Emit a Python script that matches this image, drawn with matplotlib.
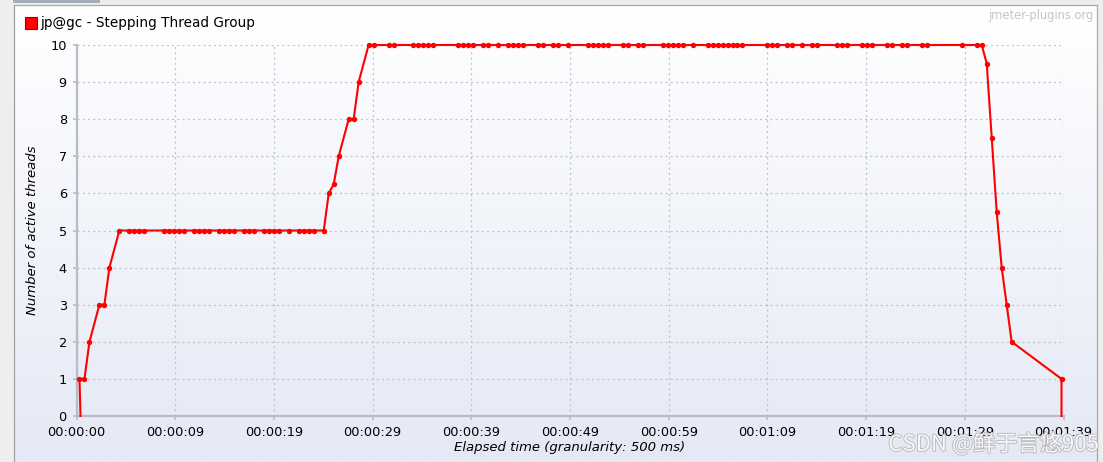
import numpy as np
import matplotlib
matplotlib.use("Agg")
import matplotlib.pyplot as plt
from matplotlib.patches import Rectangle
import matplotlib.patheffects as pe

# ---------------- data ----------------
series_name = "jp@gc - Stepping Thread Group"
granularity_s = 0.5
first_offset_s = 0.3
start_time_s = 0.4

# sample bucket index (500 ms buckets) where a value was recorded
buckets = [0, 1, 2, 4, 5, 6,
           8, 10, 11, 12, 13, 17, 18, 19, 20, 21, 23, 24, 25, 26, 28, 29, 30, 31,
           33, 34, 35, 37, 38, 39, 40, 42, 44, 45, 46, 47, 49,
           50, 51, 52, 54, 55, 56,
           58, 59, 62, 63, 67, 68, 69, 70, 71, 76, 77, 78, 79, 81, 82, 84,
           86, 87, 88, 89, 92, 93, 95, 96, 98, 102, 103, 104, 105, 106, 109, 110,
           112, 113, 117, 118, 119, 120, 121, 123, 126, 127, 128, 129, 130, 131,
           132, 133, 138, 139, 140, 142, 143, 145, 147, 148, 152, 153, 154, 157,
           158, 159, 162, 163, 165, 166, 169, 170, 177, 180, 181,
           182, 183, 184, 185, 186, 187, 197]

threads = [1, 1, 2, 3, 3, 4,
           5, 5, 5, 5, 5, 5, 5, 5, 5, 5, 5, 5, 5, 5, 5, 5, 5, 5,
           5, 5, 5, 5, 5, 5, 5, 5, 5, 5, 5, 5, 5,
           6, 6.25, 7, 8, 8, 9,
           10, 10, 10, 10, 10, 10, 10, 10, 10, 10, 10, 10, 10, 10, 10, 10,
           10, 10, 10, 10, 10, 10, 10, 10, 10, 10, 10, 10, 10, 10, 10, 10,
           10, 10, 10, 10, 10, 10, 10, 10, 10, 10, 10, 10, 10, 10,
           10, 10, 10, 10, 10, 10, 10, 10, 10, 10, 10, 10, 10, 10,
           10, 10, 10, 10, 10, 10, 10, 10, 10, 10, 10,
           9.5, 7.5, 5.5, 4, 3, 2, 1]

x_tick_seconds = [0, 9.9, 19.8, 29.7, 39.6, 49.5, 59.4, 69.3, 79.2, 89.1, 99.0]
x_tick_labels = ["00:00:00", "00:00:09", "00:00:19", "00:00:29", "00:00:39",
                 "00:00:49", "00:00:59", "00:01:09", "00:01:19", "00:01:29",
                 "00:01:39"]
y_ticks = [0, 1, 2, 3, 4, 5, 6, 7, 8, 9, 10]

# ---------------- figure ----------------
W, H = 1103, 462
fig = plt.figure(figsize=(W / 100, H / 100), dpi=100)
plt.rcParams['font.family'] = ['DejaVu Sans']

# background in pixel coordinates
bg = fig.add_axes([0, 0, 1, 1], zorder=-10)
bg.set_xlim(0, W)
bg.set_ylim(H, 0)
bg.axis('off')
bg.add_patch(Rectangle((0, 0), W, H, color='#eeeeee', lw=0))
top_c = np.array([255, 255, 255]) / 255
bot_c = np.array([228, 233, 245]) / 255
grad = np.linspace(0, 1, 256)[:, None, None]
img = top_c * (1 - grad) + bot_c * grad
bg.imshow(img, extent=(15, 1097, H, 6), aspect='auto', interpolation='bilinear', zorder=1)
bg.add_patch(Rectangle((13, 0), 87, 3, color='#a7afbd', lw=0, zorder=2))
bg.plot([14, 14], [5, H], color='#a0a0a0', lw=0.9, zorder=3)
bg.plot([14, 1097], [5, 5], color='#a8a8a8', lw=0.9, zorder=3)
bg.plot([1097, 1097], [5, H], color='#a8a8a8', lw=0.9, zorder=3)

# main axes
left, right, top, bottom = 76.5, 1063.5, 45, 416
ax = fig.add_axes([left / W, 1 - bottom / H, (right - left) / W, (bottom - top) / H])
ax.set_facecolor('none')
ax.set_xlim(0, 99.0)
ax.set_ylim(0, 10)

times = [first_offset_s + granularity_s * b for b in buckets]
xs = [start_time_s] + times + [times[-1]]
ys = [0] + threads + [0]
ax.plot(xs, ys, color='#ff0000', lw=1.5, marker='o', ms=3.9,
        markevery=list(range(1, len(xs) - 1)), markeredgewidth=0,
        solid_joinstyle='miter', zorder=5, clip_on=False)

ax.set_xticks(x_tick_seconds)
ax.set_xticklabels(x_tick_labels)
ax.set_yticks(y_ticks)
ax.grid(True, color='#bfc2ca', lw=0.9, linestyle=(0, (1.6, 2.6)))
for s in ['top', 'right']:
    ax.spines[s].set_visible(False)
for s in ['left', 'bottom']:
    ax.spines[s].set_color('#b9bcc6')
    ax.spines[s].set_linewidth(1.6)
ax.tick_params(axis='both', colors='#b9bcc6', length=3, width=1.2, labelcolor='black',
               labelsize=9.3)
ax.tick_params(axis='y', pad=4)
ax.tick_params(axis='x', pad=4)
ax.set_xlabel("Elapsed time (granularity: 500 ms)", fontsize=9.5, style='italic', labelpad=2)
ax.set_ylabel("Number of active threads", fontsize=9.5, style='italic', labelpad=8)

# legend
fig.patches.append(Rectangle((25 / W, 1 - 29 / H), 12 / W, 12 / H, transform=fig.transFigure,
                             facecolor='#ff0000', edgecolor='#9b0000', lw=0.8))
fig.text(40 / W, 1 - 23.5 / H, series_name, fontsize=9.8, va='center', ha='left', color='black')

# watermarks
fig.text(1093 / W, 1 - 15 / H, "jmeter-plugins.org", fontsize=8.3, color='#c6c6ca',
         ha='right', va='center')
fig.text(1099 / W, 1 - 444 / H, "CSDN @鲜于言悠905", fontsize=16,
         family=['Noto Sans CJK SC', 'DejaVu Sans'], color='#ffffff', alpha=0.9,
         ha='right', va='center',
         path_effects=[pe.withStroke(linewidth=1.3, foreground='#b4b4b8')])

fig.savefig("out.png", dpi=100)
